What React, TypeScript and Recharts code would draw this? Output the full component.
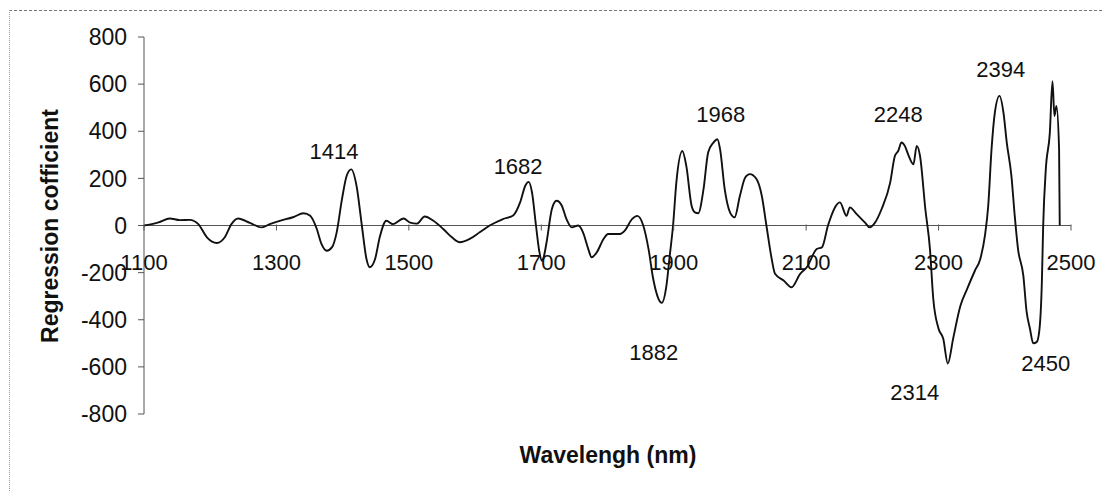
import { LineChart, Line, XAxis, YAxis, ReferenceLine, ReferenceDot } from 'recharts';

// wavelength (nm) and regression coefficient
const wavelengths = [
  1100, 1110, 1122, 1139, 1154, 1169, 1182, 1195, 1210, 1222, 1232, 1242, 1260, 1278, 1290, 1305, 1325, 1341, 1351,
  1361, 1368, 1376, 1384, 1391, 1399, 1406, 1413, 1421, 1429, 1436, 1441, 1449, 1456, 1466, 1476, 1492, 1502, 1512,
  1524, 1537, 1552, 1565, 1577, 1592, 1607, 1622, 1642, 1658, 1668, 1676, 1681, 1686, 1692, 1697, 1701, 1704, 1708,
  1716, 1723, 1731, 1738, 1746, 1756, 1763, 1771, 1776, 1784, 1794, 1801, 1819, 1826, 1837, 1845, 1854, 1862, 1869,
  1877, 1882, 1889, 1894, 1899, 1904, 1913, 1919, 1927, 1932, 1937, 1945, 1952, 1960, 1966, 1970, 1977, 1985, 1992,
  2000, 2008, 2015, 2025, 2033, 2040, 2048, 2053, 2066, 2078, 2091, 2101, 2116, 2124, 2133, 2151, 2161, 2166, 2176,
  2189, 2196, 2204, 2214, 2227, 2234, 2239, 2244, 2249, 2254, 2262, 2267, 2272, 2280, 2287, 2292, 2300, 2307, 2314,
  2322, 2333, 2343, 2355, 2363, 2370, 2375, 2380, 2385, 2392, 2398, 2403, 2410, 2415, 2420, 2428, 2433, 2438, 2443,
  2448, 2452, 2456, 2458, 2462, 2468, 2472, 2475, 2478, 2482, 2483,
];
const coefficients = [
  0, 5, 13, 30, 23, 24, 6, -50, -74, -50, 6, 30, 11, -8, 6, 20, 35, 52, 41,
  -15, -78, -107, -92, -29, 112, 210, 238, 168, 0, -142, -177, -142, -50, 20, 6, 30, 12, 8,
  38, 20, -15, -50, -71, -57, -29, 0, 27, 44, 98, 170, 185, 140, 0, -110, -150, -130, -71,
  70, 105, 84, 27, -8, 0, -29, -100, -135, -113, -57, -36, -36, -22, 27, 41, 0, -100, -226,
  -311, -328, -255, -128, 0, 183, 316, 253, 84, 56, 52, 154, 310, 352, 366, 324, 154, 56, 35,
  126, 204, 218, 197, 126, 0, -142, -205, -233, -262, -205, -177, -100, -92, 0, 98, 41, 77, 49,
  12, -8, 12, 70, 183, 295, 316, 352, 338, 302, 260, 338, 295, 70, -100, -311, -438, -480, -586,
  -480, -341, -270, -191, -142, -43, 84, 324, 479, 550, 479, 352, 211, 42, -100, -213, -367, -438, -500,
  -495, -450, -240, 0, 240, 392, 612, 465, 507, 324, 0,
];

const xTicks = [1100, 1300, 1500, 1700, 1900, 2100, 2300, 2500];
const yTicks = [-800, -600, -400, -200, 0, 200, 400, 600, 800];

// peak annotations: text and where the text sits (wavelength, coefficient)
const peakLabels = ['1414', '1682', '1968', '2248', '2394', '1882', '2314', '2450'];
const peakLabelX = [1387, 1665, 1971, 2239, 2394, 1870, 2264, 2462];
const peakLabelY = [312, 252, 469, 469, 660, -537, -707, -584];

const data = wavelengths.map((wl, i) => ({ wl, coef: coefficients[i] }));

const FONT = 'Arial, "Liberation Sans", sans-serif';
const AXIS = '#555';

const XTickMark = ({ cx, cy, label }: any) => (
  <g>
    <line x1={cx} y1={cy - 1} x2={cx} y2={cy + 5} stroke={AXIS} strokeWidth={1} />
    <text x={cx} y={cy + 37} textAnchor="middle" dominantBaseline="central" fontSize={22} fill="#111" fontFamily={FONT}>
      {label}
    </text>
  </g>
);

const PeakText = ({ cx, cy, label }: any) => (
  <text x={cx} y={cy} textAnchor="middle" dominantBaseline="central" fontSize={22} fill="#111" fontFamily={FONT}>
    {label}
  </text>
);

export default function App() {
  return (
    <div style={{ position: 'relative', width: 1094, height: 483, fontFamily: FONT, background: '#fff' }}>
      <div
        style={{
          position: 'absolute', left: 1, top: 2, right: 0, bottom: 0,
          borderTop: '1px dashed #777', borderLeft: '1px dotted #999',
        }}
      />
      <LineChart width={1094} height={483} data={data} margin={{ top: 29, right: 31, bottom: 77, left: 56 }}>
        <XAxis dataKey="wl" type="number" domain={[1100, 2500]} ticks={xTicks} hide height={0} />
        <YAxis
          type="number"
          domain={[-800, 800]}
          ticks={yTicks}
          width={80}
          axisLine={{ stroke: AXIS }}
          tickLine={{ stroke: AXIS }}
          tickSize={6}
          tickMargin={11}
          tick={{ fill: '#111', fontSize: 23, fontFamily: FONT }}
          interval={0}
        />
        <ReferenceLine y={0} stroke={AXIS} strokeWidth={1.2} />
        {xTicks.map((t) => (
          <ReferenceDot key={'t' + t} x={t} y={0} r={1} shape={(p: any) => <XTickMark {...p} label={String(t)} />} />
        ))}
        <Line
          dataKey="coef"
          type="monotone"
          stroke="#111"
          strokeWidth={1.9}
          dot={false}
          isAnimationActive={false}
        />
        {peakLabels.map((lab, i) => (
          <ReferenceDot
            key={'p' + lab}
            x={peakLabelX[i]}
            y={peakLabelY[i]}
            r={1}
            shape={(p: any) => <PeakText {...p} label={lab} />}
          />
        ))}
      </LineChart>
      <div
        style={{
          position: 'absolute', left: 42 - 150, top: 218 - 14, width: 300, height: 28, lineHeight: '28px',
          textAlign: 'center', transform: 'rotate(-90deg)', fontWeight: 'bold', fontSize: 23, color: '#111',
        }}
      >
        Regression cofficient
      </div>
      <div
        style={{
          position: 'absolute', left: 600 - 150, top: 447 - 14, width: 300, height: 28, lineHeight: '28px',
          textAlign: 'center', fontWeight: 'bold', fontSize: 23, color: '#111',
        }}
      >
        Wavelengh (nm)
      </div>
    </div>
  );
}
